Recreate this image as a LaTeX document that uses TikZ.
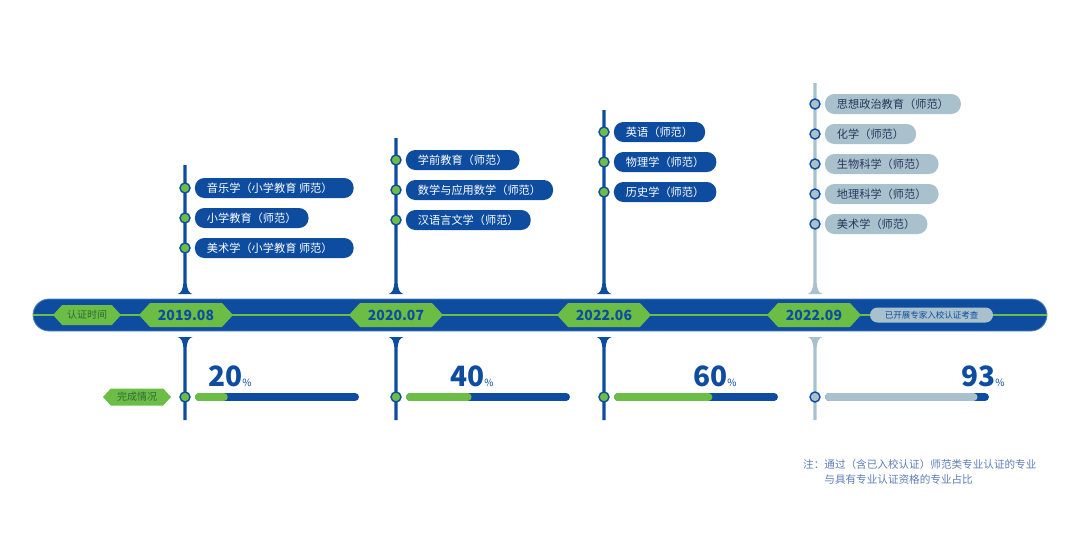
\documentclass[tikz,border=0pt]{standalone}
\usepackage{fontspec}
\setmainfont{Noto Sans CJK SC}
\usepackage{xcolor}
\usetikzlibrary{shapes.symbols,positioning}
\definecolor{navy}{HTML}{0E4C9F}
\definecolor{leaf}{HTML}{6CBD45}
\definecolor{mist}{HTML}{A8C1CD}
\definecolor{moss}{HTML}{2F6A34}
\definecolor{ink}{HTML}{23395A}
\definecolor{notec}{HTML}{5B7DB8}

\begin{document}
\begin{tikzpicture}[x=1pt,y=-1pt,
  pill/.style={rounded corners=9.5pt,minimum height=20pt,inner xsep=12pt,inner ysep=0pt,font=\fontsize{11.2}{13}\selectfont},
  knob/.style={circle,draw=navy,line width=1.4pt,minimum size=10pt,inner sep=0pt},
  hexa/.style={signal,signal to=east and west,signal pointer angle=95,fill=leaf,inner ysep=0pt},
  pct/.style={text=navy,inner sep=0pt,font=\fontsize{28}{28}\selectfont\bfseries}]
  \useasboundingbox (0,0) rectangle (1080,536);
  % stems: x, top, colour. flared foot just above / below the axis bar
  \def\stemup#1#2#3{\fill[#3] (#1-1.6,#2) rectangle (#1+1.6,285)
    (#1-1.6,280) .. controls (#1-1.6,290) and (#1-4,293) .. (#1-7.5,294) -- (#1+7.5,294) .. controls (#1+4,293) and (#1+1.6,290) .. (#1+1.6,280) -- cycle;}
  \def\stemdown#1#2{\fill[#2] (#1-7.5,337) -- (#1+7.5,337) .. controls (#1+4,338) and (#1+1.6,341) .. (#1+1.6,350) -- (#1+1.6,420) -- (#1-1.6,420) -- (#1-1.6,350) .. controls (#1-1.6,341) and (#1-4,338) .. cycle;}
  \stemup{185}{165}{navy} \stemup{396}{138}{navy} \stemup{604}{110}{navy} \stemup{815}{83}{mist}
  \stemdown{185}{navy} \stemdown{396}{navy} \stemdown{604}{navy} \stemdown{815}{mist}
  % majors per date: x, first y, pill colours, knob fill, list
  \def\items#1#2#3#4#5{
    \foreach \t [count=\i from 0] in {#5} {
      \node[knob,fill=#4] (k#1-\i) at (#1,#2+30*\i) {};
      \node[pill,#3,right=4pt of k#1-\i] (p#1-\i) {\t};}}
  \items{185}{188}{fill=navy,text=white}{leaf}{音乐学（小学教育 师范）\kern9pt,小学教育（师范）,美术学（小学教育 师范）\kern9pt}
  \items{396}{160}{fill=navy,text=white}{leaf}{学前教育（师范）,数学与应用数学（师范）,汉语言文学（师范）}
  \items{604}{132}{fill=navy,text=white}{leaf}{英语（师范）,物理学（师范）,历史学（师范）}
  \items{815}{104}{fill=mist,text=ink}{mist}{思想政治教育（师范）,化学（师范）,生物科学（师范）,地理科学（师范）,美术学（师范）}
  % axis bar
  \node[fill=navy,draw=navy!70!white,line width=0.8pt,rounded corners=16pt,minimum width=1014pt,minimum height=32pt] (axis) at (540,315) {};
  \draw[leaf,line width=1.6pt] (axis.west) -- (axis.east);
  \node[hexa,minimum width=68pt,minimum height=20pt,text=moss,font=\fontsize{10}{10}\selectfont] (when) at (87,315) {认证时间};
  \foreach \x/\d in {186/2019.08,396/2020.07,604/2022.06,814/2022.09}
    \node[hexa,minimum width=94pt,minimum height=24pt,text=navy,font=\fontsize{14}{14}\selectfont\bfseries] (d\d) at (\x,315) {\d};
  \node[fill=mist,text=navy,rounded corners=7.5pt,minimum width=123pt,minimum height=15pt,inner ysep=0pt,font=\fontsize{8.5}{9}\selectfont] (visit) at (931.5,315) {已开展专家入校认证考查};
  % progress: x, percent, done colour, rest colour, label x
  \def\prog#1#2#3#4#5{
    \draw[#4,line width=8pt,line cap=round] (#1+14,397) -- (#1+170,397);
    \draw[#3,line width=8pt,line cap=round] (#1+14,397) -- (#1+6+1.64*#2,397);
    \node[knob,fill=#3] (b#1) at (#1,397) {};
    \node[pct,anchor=base west] (n#1) at (#5,386) {#2{\fontsize{10}{10}\selectfont\mdseries\%}};}
  \prog{185}{20}{leaf}{navy}{208}
  \prog{396}{40}{leaf}{navy}{450}
  \prog{604}{60}{leaf}{navy}{693}
  \prog{815}{93}{mist}{navy}{961}
  \node[hexa,minimum width=68pt,minimum height=17pt,text=moss,font=\fontsize{10}{10}\selectfont] (done) at (137,397) {完成情况};
  \node[anchor=north west,align=left,inner sep=0pt,text=notec,font=\fontsize{10.6}{15}\selectfont] (note) at (803,459)
    {注：通过（含已入校认证）师范类专业认证的专业\\\hphantom{注：}与具有专业认证资格的专业占比};
\end{tikzpicture}
\end{document}
